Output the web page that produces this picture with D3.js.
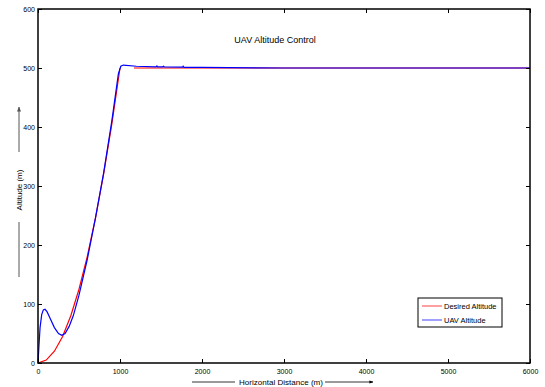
<!DOCTYPE html>
<html>
<head>
<meta charset="utf-8">
<script src="https://cdn.jsdelivr.net/npm/d3@7"></script>
<style>
  body { margin: 0; background: #fff; }
  svg { display: block; font-family: "Liberation Sans", Arial, sans-serif; }
</style>
</head>
<body>
<div id="chart"></div>
<script>
// values
const xTicks = [0, 1000, 2000, 3000, 4000, 5000, 6000];
const yTicks = [0, 100, 200, 300, 400, 500, 600];

const desiredClimbX = [0, 100, 200, 300, 400, 500, 600, 700, 800, 900, 1000];
const desiredClimbY = [0, 5, 20, 45, 80, 125, 180, 245, 320, 405, 500];
const desiredCruiseX = [1170, 6000];
const desiredCruiseY = [500, 500];

const uavX = [0, 10, 25, 45, 65, 85, 110, 150, 200, 250, 290, 330, 380, 430, 500, 600, 700, 800, 900, 980, 1010, 1040, 1200, 1440, 1450, 1460, 1520, 1530, 1540, 1760, 1770, 1780, 2000, 3000, 4500, 5200, 6000];
const uavY = [0, 25, 60, 82, 90, 91, 87, 75, 60, 50, 47, 50, 62, 80, 115, 175, 245, 322, 410, 490, 503, 505, 503, 502, 503.5, 502, 502, 503, 502, 501.5, 503, 501, 501, 500, 500, 500, 500];

const width = 545, height = 387;
const margin = { left: 38, right: 15, top: 9, bottom: 24 };

const svg = d3.select('#chart')
  .append('svg')
  .attr('width', width)
  .attr('height', height);

const x = d3.scaleLinear().domain([0, 6000]).range([margin.left, width - margin.right]);
const y = d3.scaleLinear().domain([0, 600]).range([height - margin.bottom, margin.top]);

const toPts = (xs, ys) => xs.map((d, i) => [d, ys[i]]);
const line = d3.line().x(d => x(d[0])).y(d => y(d[1]));

// curves
svg.append('path')
  .attr('d', line(toPts(desiredClimbX, desiredClimbY)))
  .attr('fill', 'none').attr('stroke', '#ff0000').attr('stroke-width', 1.2);
svg.append('path')
  .attr('d', line(toPts(desiredCruiseX, desiredCruiseY)))
  .attr('fill', 'none').attr('stroke', '#ff0000').attr('stroke-width', 1.2);
svg.append('path')
  .attr('d', line(toPts(uavX, uavY)))
  .attr('fill', 'none').attr('stroke', '#0000ff').attr('stroke-width', 1.2);

// axes (inward ticks, mirrored on top/right)
const tickFont = g => g.selectAll('text').attr('font-size', 7).attr('fill', '#000');

svg.append('g')
  .attr('transform', `translate(0,${y(0)})`)
  .call(d3.axisBottom(x).tickValues(xTicks).tickSize(-4).tickPadding(6).tickFormat(d3.format('d')))
  .call(tickFont)
  .call(g => g.select('.domain').remove());
svg.append('g')
  .attr('transform', `translate(0,${y(600)})`)
  .call(d3.axisTop(x).tickValues(xTicks).tickSize(-4).tickFormat(''))
  .call(g => g.select('.domain').remove());
svg.append('g')
  .attr('transform', `translate(${x(0)},0)`)
  .call(d3.axisLeft(y).tickValues(yTicks).tickSize(-4).tickPadding(3).tickFormat(d3.format('d')))
  .call(tickFont)
  .call(g => g.select('.domain').remove());
svg.append('g')
  .attr('transform', `translate(${x(6000)},0)`)
  .call(d3.axisRight(y).tickValues(yTicks).tickSize(-4).tickFormat(''))
  .call(g => g.select('.domain').remove());

svg.append('rect')
  .attr('x', x(0)).attr('y', y(600))
  .attr('width', x(6000) - x(0)).attr('height', y(0) - y(600))
  .attr('fill', 'none').attr('stroke', '#000').attr('stroke-width', 1.5);

// title
svg.append('text')
  .attr('x', 275).attr('y', 43)
  .attr('text-anchor', 'middle').attr('font-size', 9)
  .text('UAV Altitude Control');

// arrow marker
svg.append('defs').append('marker')
  .attr('id', 'arr').attr('viewBox', '0 0 10 10')
  .attr('refX', 9).attr('refY', 5)
  .attr('markerWidth', 5).attr('markerHeight', 5)
  .attr('orient', 'auto')
  .append('path').attr('d', 'M0,1L10,5L0,9Z').attr('fill', 'context-stroke');

// x label
svg.append('line').attr('x1', 192).attr('x2', 235).attr('y1', 382).attr('y2', 382)
  .attr('stroke', '#000').attr('stroke-width', 0.8);
svg.append('text')
  .attr('x', 239).attr('y', 385).attr('font-size', 8)
  .attr('textLength', 84).attr('lengthAdjust', 'spacingAndGlyphs')
  .text('Horizontal Distance (m)');
svg.append('line').attr('x1', 325).attr('x2', 373).attr('y1', 382).attr('y2', 382)
  .attr('stroke', '#000').attr('stroke-width', 0.8).attr('marker-end', 'url(#arr)');

// y label
svg.append('line').attr('x1', 19).attr('x2', 19).attr('y1', 152).attr('y2', 107)
  .attr('stroke', '#555').attr('stroke-width', 1).attr('marker-end', 'url(#arr)');
svg.append('text')
  .attr('transform', 'translate(22,190) rotate(-90)')
  .attr('text-anchor', 'middle').attr('font-size', 8)
  .text('Altitude (m)');
svg.append('line').attr('x1', 19).attr('x2', 19).attr('y1', 222).attr('y2', 277)
  .attr('stroke', '#555').attr('stroke-width', 1);

// legend
const leg = svg.append('g').attr('transform', 'translate(418,298)');
leg.append('rect').attr('width', 84).attr('height', 29)
  .attr('fill', '#fff').attr('stroke', '#000').attr('stroke-width', 1);
const legendItems = [['Desired Altitude', '#ff6060'], ['UAV Altitude', '#6060ff']];
legendItems.forEach(([name, c], i) => {
  const yy = 8 + i * 14;
  leg.append('line').attr('x1', 4).attr('x2', 24).attr('y1', yy).attr('y2', yy)
    .attr('stroke', c).attr('stroke-width', 1.2);
  leg.append('text').attr('x', 26).attr('y', yy + 3).attr('font-size', 7.5).text(name);
});
</script>
</body>
</html>
